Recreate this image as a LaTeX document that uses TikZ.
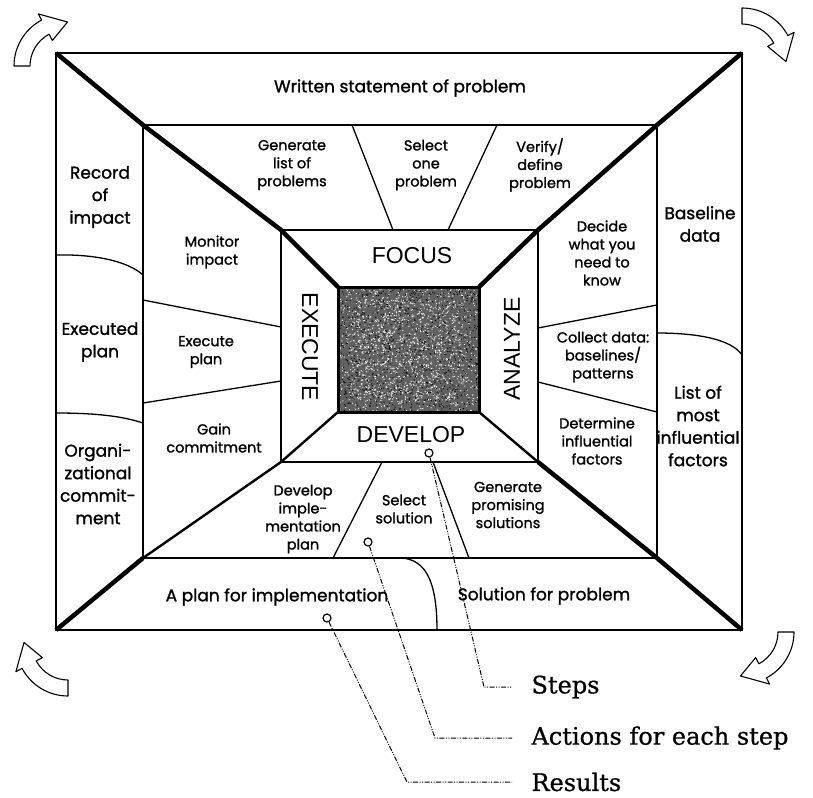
\documentclass[tikz,border=0pt]{standalone}
\usepackage{fontspec}
\setmainfont{Poppins}
\newfontfamily\lblfont{Poppins}[FakeBold=1.3]
\newfontfamily\headfont{Liberation Sans}
\newfontfamily\notefont{DejaVu Serif}[FakeBold=0.8]
\usetikzlibrary{calc}

\tikzset{
  frameline/.style={line width=1.8pt},
  rim/.style={line width=1.3pt},
  beam/.style={line width=4.5pt},
  halfbeam/.style={line width=2.4pt},
  lbl/.style={align=center,font=\lblfont\fontsize{14.5}{18}\selectfont},
  biglbl/.style={align=center,font=\lblfont\fontsize{17}{22.5}\selectfont},
  phase/.style={font=\headfont\fontsize{23}{23}\selectfont},
  ring/.style={circle,draw,line width=1.2pt,minimum size=8pt,inner sep=0pt},
  leader/.style={line width=1pt,dash pattern=on 5pt off 1.5pt on 1pt off 1.5pt on 1pt off 1.5pt},
  note/.style={anchor=west,font=\notefont\fontsize{24}{24}\selectfont},
  swirl/.style={line width=1.1pt,fill=white,line join=round}
}

% curved block arrow round a corner
\newcommand{\cornerarrow}[3]{%
  \begin{scope}[shift={(#1,#2)},yscale=-1,rotate=#3]
    \draw[swirl] (180:52) arc[start angle=180,end angle=118,radius=52] -- (118:59) -- (88:44)
      -- (118:29) -- (118:36) arc[start angle=118,end angle=180,radius=36] -- cycle;
  \end{scope}}

\begin{document}
\begin{tikzpicture}[x=1pt,y=-1pt]
\useasboundingbox (0,0) rectangle (813,797);

% frames
\draw[frameline] (56,53) rectangle (742,630);
\draw[rim] (143,125) rectangle (657,558);
\draw[rim] (281,230) rectangle (538,462);

% centre
\fill[black!62] (338,287) rectangle (479,412);
\pgfmathsetseed{7}
\foreach \i in {1,...,900}{
  \fill[white] ({339+139*rnd},{288+123*rnd}) circle (0.65);}
\foreach \i in {1,...,700}{
  \fill[white] ({350+115*rnd},{300+100*rnd}) circle (0.65);}
\foreach \i in {1,...,900}{
  \fill[black] ({339+139*rnd},{288+123*rnd}) circle (0.65);}
\draw[line width=3pt] (338,287) rectangle (479,412);

% diagonals
\draw[beam] (56,53) -- (143,125) -- (281,230) -- (338,287);
\draw[beam] (742,53) -- (657,125) -- (538,230) -- (479,287);
\draw[beam] (56,630) -- (143,558);
\draw[halfbeam] (143,558) -- (281,462) -- (338,412);
\draw[beam] (742,630) -- (657,558) -- (538,462);
\draw[halfbeam] (538,462) -- (479,412);

% dividers
\draw[rim] (352,125) -- (393,230);
\draw[rim] (497,125) -- (448,230);
\draw[rim] (143,300) -- (281,327);
\draw[rim] (143,403) -- (281,381);
\draw[rim] (538,328) -- (657,305);
\draw[rim] (538,382) -- (657,412);
\draw[rim] (382,462) -- (333,558);
\draw[rim] (433,462) -- (469,558);
\draw[rim] (56,255) .. controls (100,254) and (130,263) .. (143,275);
\draw[rim] (56,413) .. controls (100,413) and (125,417) .. (143,423);
\draw[rim] (657,333) .. controls (700,333) and (732,340) .. (742,355);
\draw[rim] (402,558) .. controls (425,560) and (437,580) .. (437,630);

% phases
\node[phase] (focus) at (412,256) {FOCUS};
\node[phase] (develop) at (411,435) {DEVELOP};
\node[phase,rotate=-90] (execute) at (310,347) {EXECUTE};
\node[phase,rotate=90] (analyze) at (512,349) {ANALYZE};

% steps
\node[lbl] (genlist) at (292,165) {Generate\\list of\\problems};
\node[lbl] (selone) at (426,165) {Select\\one\\problem};
\node[lbl] (verify) at (540,165) {Verify/\\define\\problem};
\node[lbl] (monitor) at (212,252) {Monitor\\impact};
\node[lbl] (exeplan) at (206,352) {Execute\\plan};
\node[lbl] (gain) at (214,438) {Gain\\commitment};
\node[lbl] (decide) at (602,253) {Decide\\what you\\need to\\know};
\node[lbl] (collect) at (603,357) {Collect data:\\baselines/\\patterns};
\node[lbl] (determine) at (597,441) {Determine\\influential\\factors};
\node[lbl] (devplan) at (303,519) {Develop\\imple-\\mentation\\plan};
\node[lbl] (selsol) at (404,509) {Select\\solution};
\node[lbl] (genprom) at (508,505) {Generate\\promising\\solutions};

% results
\node[biglbl] (written) at (400,88) {Written statement of problem};
\node[biglbl] (record) at (100,197) {Record\\of\\impact};
\node[biglbl] (executed) at (100,342) {Executed\\plan};
\node[biglbl] (orgcom) at (98,484) {Organi-\\zational\\commit-\\ment};
\node[biglbl] (baseline) at (700,224) {Baseline\\data};
\node[biglbl] (listmost) at (698,426) {List of\\most\\influential\\factors};
\node[biglbl] (implan) at (277,597) {A plan for implementation};
\node[biglbl] (solution) at (544,596) {Solution for problem};

% key
\node[ring] (cstep) at (429,453) {};
\node[ring] (cact) at (368,542) {};
\node[ring] (cres) at (327,618) {};
\coordinate (kstep) at (484,687);
\coordinate (kact) at (435,738);
\coordinate (kres) at (407,782);
\node[note] (lstep) at (528,687) {Steps};
\node[note] (lact) at (528,738) {Actions for each step};
\node[note] (lres) at (528,782) {Results};
\draw[leader,shorten >=16pt] (cstep) -- (kstep) -- (lstep.west);
\draw[leader,shorten >=16pt] (cact) -- (kact) -- (lact.west);
\draw[leader,shorten >=16pt] (cres) -- (kres) -- (lres.west);

% cycle arrows
\cornerarrow{66}{66}{0}
\cornerarrow{742}{60}{90}
\cornerarrow{742}{632}{180}
\cornerarrow{68}{644}{-90}
\end{tikzpicture}
\end{document}
